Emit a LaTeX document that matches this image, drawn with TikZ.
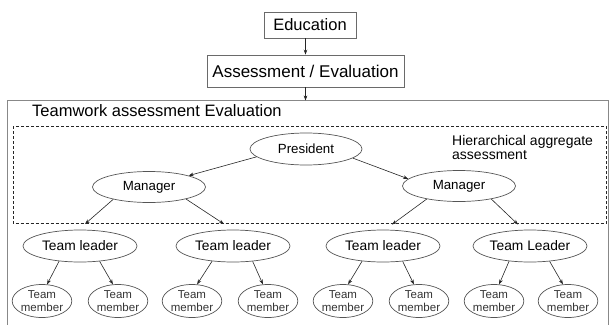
\documentclass[tikz,border=0pt]{standalone}
\usepackage{fontspec}
\setmainfont{Liberation Sans}
\usetikzlibrary{shapes.geometric,arrows.meta}
\definecolor{edge}{HTML}{555555}
\definecolor{boxline}{HTML}{6A6A6A}
\begin{document}
\begin{tikzpicture}[x=1pt,y=-1pt,
  conn/.style={draw=black!85,line width=0.6pt,-{Stealth[length=5pt,width=3.6pt]}},
  rectbox/.style={draw=boxline,line width=0.8pt,inner sep=0pt,fill=white},
  oval/.style={ellipse,draw=edge,line width=0.7pt,inner sep=0pt},
  bigoval/.style={oval,minimum width=113pt,minimum height=31pt,font=\fontsize{13.3}{15}\selectfont},
  leaderoval/.style={oval,minimum width=114pt,minimum height=32pt,font=\fontsize{13.8}{15}\selectfont},
  memberoval/.style={oval,minimum width=59pt,minimum height=33pt,align=center,text=black!80,
    font=\fontsize{11.5}{12.5}\selectfont}]
\useasboundingbox (0,0) rectangle (609,324);
\clip (0,0) rectangle (609,324);
% top boxes
\node[rectbox,minimum width=92pt,minimum height=26pt,font=\fontsize{16.5}{18}\selectfont] (edu) at (310,25) {Education};
\node[rectbox,minimum width=197pt,minimum height=32pt,font=\fontsize{17}{19}\selectfont] (asm) at (305.5,71) {Assessment / Evaluation};
% outer frame
\draw[draw=boxline!80,line width=0.8pt] (7,330) -- (7,100.5) -- (608,100.5) -- (608,330);
\coordinate (outtop) at (305.5,100.5);
\node[anchor=base west,inner sep=0pt,font=\fontsize{16.5}{18}\selectfont] (twtitle) at (32,116) {Teamwork assessment Evaluation};
% dashed region
\draw[black!85,line width=0.6pt,dash pattern=on 3pt off 2pt] (13,126) rectangle (606,223.5);
\node[anchor=north west,inner sep=0pt,align=left,font=\fontsize{14}{14.5}\selectfont] (hier) at (452,135) {Hierarchical aggregate\\assessment};
\draw[conn] (edu.south -| asm) -- (asm.north);
\draw[conn] (asm.south) -- (outtop);
% hierarchy
\node[bigoval,minimum width=112pt,minimum height=32pt] (pres) at (306,149) {President};
\node[bigoval] (mgrA) at (149,187) {Manager};
\node[bigoval] (mgrB) at (459,186) {Manager};
\draw[conn] (pres.189) -- (mgrA.16);
\draw[conn] (pres.349) -- (mgrB.172);
\foreach \i/\x in {1/80,2/233,3/383,4/530}{
  \node[leaderoval] (tl\i) at (\x,246) {\ifnum\i=4 Team Leader\else Team leader\fi};
}
\coordinate (inA) at (85,224);
\coordinate (inB) at (224,224);
\coordinate (inC) at (392,224.5);
\coordinate (inD) at (518,224.5);
\draw[conn] (mgrA.199) -- (inA);
\draw[conn] (mgrA.342) -- (inB);
\draw[conn] (mgrB.202) -- (inC);
\draw[conn] (mgrB.338) -- (inD);
\foreach \j/\x in {1/42,2/118,3/192,4/268,5/343,6/419,7/494,8/568}{
  \node[memberoval] (tm\j) at (\x,301) {Team\\member};
}
\foreach \i/\a/\b in {1/1/2,2/3/4,3/5/6,4/7/8}{
  \draw[conn] (tl\i.216) -- (tm\a.73);
  \draw[conn] (tl\i.322) -- (tm\b.107);
}
\end{tikzpicture}
\end{document}
